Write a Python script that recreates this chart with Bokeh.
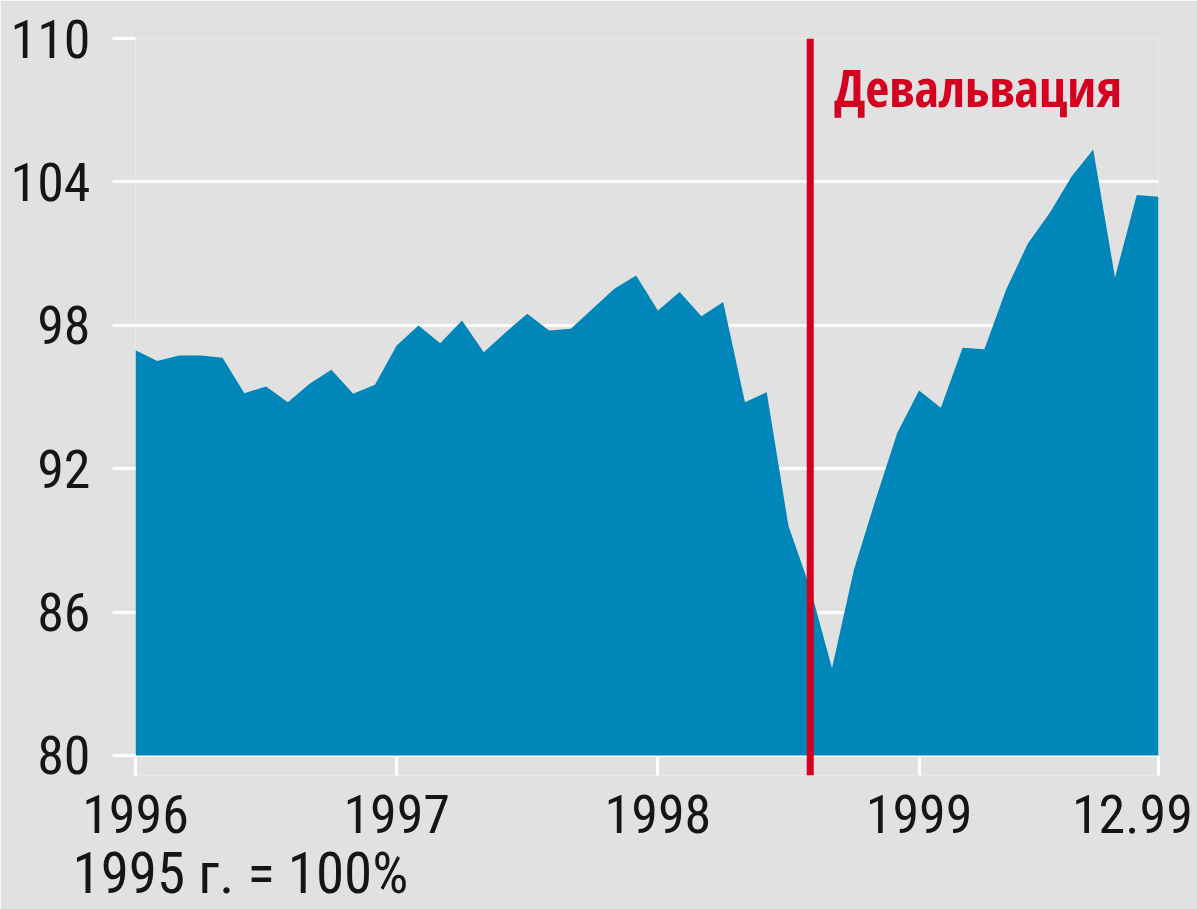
import re
from bokeh.plotting import figure
from bokeh.models import FixedTicker, LinearAxis, Range1d, Span, Label, Title
from bokeh.embed import file_html
from bokeh.resources import INLINE

# ---- data -------------------------------------------------------------
# month index: 0 = January 1996 ... 47 = December 1999
months = list(range(48))
index_values = [96.95, 96.50, 96.74, 96.74, 96.64, 95.16, 95.44, 94.78, 95.55, 96.14, 95.13, 95.51,
                97.15, 97.99, 97.25, 98.20, 96.87, 97.70, 98.48, 97.78, 97.85, 98.69, 99.53, 100.08,
                98.62, 99.39, 98.38, 98.97, 94.78, 95.20, 89.60, 87.00, 83.65, 87.75, 90.70, 93.50,
                95.27, 94.55, 97.06, 97.00, 99.50, 101.42, 102.70, 104.22, 105.36, 100.00, 103.45, 103.38]
x_tick_months = [0, 12, 24, 36, 47]
x_tick_labels = ["1996", "1997", "1998", "1999", "12.99"]
y_ticks = [80, 86, 92, 98, 104, 110]
devaluation_month = 31          # August 1998
devaluation_label = "Девальвация"
base_note = "1995 г. = 100%"

# ---- style ------------------------------------------------------------
BG = "#e1e1e1"
BLUE = "#0086b9"
RED = "#d5001f"
INK = "#151515"
FONT = "Roboto Condensed"
BOLD_FONT = "Open Sans Condensed"
Y_BASE = 80
Y_TOP = 110
Y_START = 79.16   # a little room under the area for the tick marks
LAST_LABEL_SHIFT = -1.2

p = figure(width=1197, height=909,
           x_range=Range1d(0, 47), y_range=Range1d(Y_START, Y_TOP),
           output_backend="svg", toolbar_location=None,
           min_border_left=135, min_border_right=39,
           min_border_top=38, min_border_bottom=134,
           background_fill_color=BG, border_fill_color=BG,
           outline_line_color=None,
           x_axis_location=None, y_axis_location=None)

# grid
p.xgrid.ticker = FixedTicker(ticks=[x_tick_months[0], x_tick_months[-1]])
p.ygrid.ticker = FixedTicker(ticks=y_ticks)
for g in (p.xgrid[0], p.ygrid[0]):
    g.grid_line_color = "white"
    g.grid_line_width = 3

# area
p.varea(x=months, y1=Y_BASE, y2=index_values, fill_color=BLUE)

# devaluation marker
p.add_layout(Span(location=devaluation_month, dimension="height",
                  line_color=RED, line_width=7))
p.add_layout(Label(x=devaluation_month, y=Y_TOP, x_offset=24, y_offset=-48,
                   text=devaluation_label, text_font=BOLD_FONT, text_font_style="bold",
                   text_font_size="52px", text_color=RED, text_baseline="alphabetic"))

# y axis
yax = LinearAxis(ticker=FixedTicker(ticks=y_ticks))
yax.axis_line_color = None
yax.major_tick_in = 0
yax.major_tick_out = 23
yax.major_tick_line_color = "white"
yax.major_tick_line_width = 3
yax.minor_tick_line_color = None
yax.major_label_standoff = 22
yax.major_label_text_font = FONT
yax.major_label_text_font_size = "54px"
yax.major_label_text_color = INK
p.add_layout(yax, "left")

# x axis: labels on major ticks, white tick marks as minor ticks
label_pos = list(x_tick_months)
label_pos[-1] = x_tick_months[-1] + LAST_LABEL_SHIFT
xax = LinearAxis(ticker=FixedTicker(ticks=label_pos, minor_ticks=x_tick_months))
xax.major_label_overrides = {pos: lab for pos, lab in zip(label_pos, x_tick_labels)}
xax.axis_line_color = None
xax.major_tick_in = 0
xax.major_tick_out = 0
xax.minor_tick_in = 19
xax.minor_tick_out = 0
xax.minor_tick_line_color = "white"
xax.minor_tick_line_width = 3
xax.major_label_standoff = 19
xax.major_label_text_font = FONT
xax.major_label_text_font_size = "54px"
xax.major_label_text_color = INK
p.add_layout(xax, "below")

# base note under the axis
p.add_layout(Title(text=base_note, align="left", offset=-63, standoff=4,
                   vertical_align="bottom", text_baseline="alphabetic",
                   text_font=FONT, text_font_size="57px", text_font_style="normal",
                   text_color=INK), "below")

html = file_html(p, INLINE)
html = re.sub(r"<body[^>]*>", '<body style="background-color:%s;">' % BG, html, count=1)
open("out.html", "w").write(html)
